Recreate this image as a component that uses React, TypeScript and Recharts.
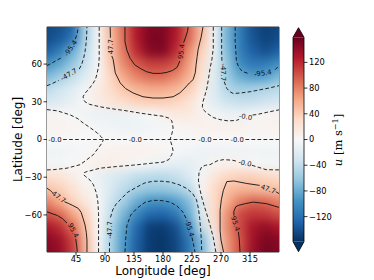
import React from 'react';
import { ComposedChart, Scatter, XAxis, YAxis, ReferenceArea, BarChart, Bar } from 'recharts';

// ---------- data ----------
const LONS = [0, 20, 40, 60, 80, 100, 120, 140, 160, 180, 200, 220, 240, 260, 280, 300, 320, 340, 360];
const LATS = [90, 80, 70, 60, 50, 40, 30, 20, 10, 0, -10, -20, -30, -40, -50, -60, -70, -80, -90];

const U_N90 = [-145, -140, -127, -52, -3, 55, 92, 128, 148, 148, 130, 93, 52, -6, -75, -112, -140, -150, -145];
const U_N80 = [-142, -135, -115, -50, -3, 50, 90, 128, 150, 150, 128, 92, 48, -6, -75, -112, -138, -148, -142];
const U_N70 = [-130, -112, -79, -42, -2, 48, 85, 120, 145, 148, 120, 76, 37, -8, -70, -110, -130, -140, -130];
const U_N60 = [-98, -82, -62, -36, -2, 42, 78, 98, 110, 110, 100, 67, 28, -16, -62, -100, -115, -112, -98];
const U_N50 = [-72, -58, -40, -20, 4, 34, 63, 80, 90, 90, 78, 57, 22, -18, -58, -80, -90, -88, -72];
const U_N40 = [-42, -32, -20, -4, 14, 30, 44, 55, 60, 60, 54, 40, 15, -20, -47, -55, -53, -48, -42];
const U_N30 = [-28, -22, -12, 1, 12, 22, 30, 37, 40, 40, 35, 25, 4, -20, -33, -38, -38, -33, -28];
const U_N20 = [4, 2, -2, -7, -10, -10, -8, -5, 0, 8, 16, 16, 8, -4, -10, -10, -3, 3, 4];
const U_N10 = [6, 6, 4, 1, -4, -7, -8, -8, -6, -3, 2, 6, 8, 8, 7, 7, 6, 6, 6];
const U_EQ = [0, 0, 0, 0, 0, 0, 0, 0, 0, 0, 0, 0, 0, 0, 0, 0, 0, 0, 0];
const U_S10 = [-6, -6, -4, -1, 4, 7, 8, 8, 6, 3, -2, -6, -8, -8, -7, -7, -6, -6, -6];
const U_S20 = [-4, -3, -1, 5, 9, 10, 6, -1, -6, -10, -16, -16, -8, 3, 9, 6, -1, -4, -4];
const U_S30 = [28, 22, 12, -1, -12, -22, -32, -40, -44, -44, -38, -25, -4, 20, 33, 38, 38, 33, 28];
const U_S40 = [46, 38, 24, 8, -5, -25, -42, -55, -62, -62, -56, -44, 4, 30, 48, 55, 55, 50, 46];
const U_S50 = [80, 60, 36, 18, 0, -34, -56, -80, -96, -98, -90, -70, -20, 30, 58, 82, 94, 92, 80];
const U_S60 = [103, 92, 65, 38, 0, -38, -75, -105, -125, -128, -115, -82, -22, 28, 72, 105, 115, 112, 103];
const U_S70 = [130, 118, 90, 45, 0, -48, -88, -125, -150, -152, -140, -100, -40, 20, 75, 105, 132, 140, 130];
const U_S80 = [145, 135, 108, 52, 0, -52, -92, -130, -152, -155, -145, -115, -70, -8, 70, 100, 135, 150, 145];
const U_S90 = [148, 140, 112, 55, 2, -52, -94, -132, -152, -155, -146, -118, -75, -12, 68, 102, 138, 152, 148];

const U_ROWS = [U_N90, U_N80, U_N70, U_N60, U_N50, U_N40, U_N30, U_N20, U_N10, U_EQ,
  U_S10, U_S20, U_S30, U_S40, U_S50, U_S60, U_S70, U_S80, U_S90];

const X_TICKS = [45, 90, 135, 180, 225, 270, 315];
const Y_TICKS = [-60, -30, 0, 30, 60];
const CB_TICKS = [-120, -80, -40, 0, 40, 80, 120];
const CB_MIN = -159;
const CB_MAX = 159;
const LAT_MAX = 89.5;

type P = [number, number];
// contour polylines [lon, lat]
const N_P95_A: P[] = [[121, 89.5], [121, 78], [124, 71], [129, 64.6], [136, 59.5], [144.6, 56.6], [154, 54], [164.7, 52.6], [176, 52.6], [186, 53.4], [195, 55], [202, 57.5], [206, 62.5]];
const N_P95_B: P[] = [[212, 77], [215.5, 82], [218, 86], [219, 89.5]];
const N_P47_A: P[] = [[98, 89.5], [98.5, 81]];
const N_P47_B: P[] = [[100.5, 66.5], [102.7, 63.6], [106, 53], [113.6, 45], [122, 40.5], [133.7, 37], [149, 34], [164.7, 33], [180, 33], [195.7, 34], [206, 37], [214, 41], [221, 45], [226.7, 47.6], [230, 53], [231.4, 59.6], [233, 66], [234.5, 71.6], [237, 77], [239, 81], [242, 89.5]];
const N_ZA: P[] = [[81, 89.5], [81, 75], [81, 65], [80, 58], [77.5, 52], [75, 47.6], [70, 43.5], [64, 39.6], [58.5, 36.5], [56, 34], [57, 31.5], [59, 30], [66, 28], [74, 27], [82.6, 26], [100, 24.5], [121, 23], [144.6, 21], [165, 19.5], [180, 18.5], [189, 17], [193.7, 14.8], [195.7, 9.2], [194, 5], [191, 0]];
const N_ZC_A: P[] = [[258, 89.5], [258, 80], [258, 72.6], [256, 64], [253, 56.6], [250.5, 48], [248, 40.6], [245, 35], [242, 30], [241, 26], [243, 23.5], [248, 21], [258, 17.5], [268.6, 15.8], [281, 14.8], [294, 15.2], [298, 16]];
const N_ZC_B: P[] = [[319, 19.5], [325, 19.8], [340, 21.5], [360, 23.6]];
const N_B: P[] = [[0, 23.8], [16, 22.8], [36, 19.6], [48, 16.5], [56, 13.2], [68, 9], [78, 5.2], [84, 2.2], [87.7, 0]];
const N_M47L_A: P[] = [[0, 42.8], [8, 44.5], [18, 47]];
const N_M47L_B: P[] = [[50, 56], [54, 60], [57, 65], [59, 70], [60.5, 76], [61.5, 82], [62, 89.5]];
const N_M47R_A: P[] = [[271, 89.5], [271, 80], [271, 70], [271.5, 61]];
const N_M47R_B: P[] = [[275, 46], [279, 40.6], [284, 38], [289, 36.6], [300, 37], [315, 38], [330, 39.5], [345, 41], [360, 42.8]];
const N_M95L_A: P[] = [[0, 58.8], [10, 61.5], [22, 65]];
const N_M95L_B: P[] = [[44, 80], [47, 84.5], [48.5, 89.5]];
const N_M95R_A: P[] = [[292, 89.5], [292, 78], [293, 70], [294, 62], [298, 57], [304, 54], [314, 52.2]];
const N_M95R_B: P[] = [[354, 55.5], [360, 58.8]];
const EQ_A: P[] = [[25, 0], [124, 0]];
const EQ_B: P[] = [[150, 0], [232, 0]];
const EQ_C: P[] = [[258, 0], [282, 0]];
const EQ_D: P[] = [[308, 0], [360, 0]];
const S_P95L_A: P[] = [[0, -57.5], [8, -59], [16, -60.4], [24, -63], [31, -66.5]];
const S_P95L_B: P[] = [[44.5, -79], [46, -84], [47, -89.5]];
const S_P47L_A: P[] = [[0, -38.8], [5, -40.5], [9, -42.5]];
const S_P47L_B: P[] = [[27, -49.5], [33, -50.8], [40, -52.5], [48.5, -54.8], [53, -58], [56, -62.8], [59, -68], [61, -74], [62, -80], [62, -89.5]];
const S_ZA: P[] = [[80, -89.5], [80, -75], [80, -59], [79, -50], [77, -43], [72, -36], [67, -32.4], [60, -29.5], [56.7, -28], [58, -26.3], [62, -25.5], [70, -24.5], [82.6, -22.8], [108, -21.5], [134, -20.4], [160, -19], [180, -18], [189, -16], [193.5, -12], [195.7, -9], [194, -5], [191, 0]];
const S_B: P[] = [[0, -24.2], [10, -24], [31, -22.8], [51.6, -20], [62, -16], [72, -12], [80, -6.5], [85, -3], [87.7, 0]];
const S_ZC_A: P[] = [[262, -89.5], [258, -78], [254, -70], [249, -61], [244, -53], [240, -45.8], [236.5, -38], [235, -32.4], [236, -26], [240, -21.8], [246, -20.5], [253, -20], [264, -17], [274, -16], [288, -16.5], [296, -17.5]];
const S_ZC_B: P[] = [[318, -20.5], [340, -24], [360, -24.2]];
const S_M47_A: P[] = [[97, -89.5], [97, -82]];
const S_M47_B: P[] = [[98.5, -62], [102, -56], [107, -51.5], [113.6, -48], [125, -42], [139.5, -37.8], [152, -34.5], [164.7, -33.2], [178, -33.2], [191, -33.8], [205, -36], [217, -39], [226, -43], [232, -48], [235, -55], [237, -63], [238.5, -72], [239.5, -80], [240, -89.5]];
const S_M95_A: P[] = [[121, -89.5], [122, -80], [124, -68.4], [130, -60], [139.5, -54.8], [152, -50], [164.7, -48.4], [178, -48.6], [191, -49.8], [202, -53], [211, -57.8], [216, -63]];
const S_M95_B: P[] = [[225, -78], [228, -85], [229.6, -89.5]];
const S_P47R_A: P[] = [[274, -89.5], [270, -80], [268.6, -72.4], [268.6, -64], [268.6, -56.4], [270.5, -48], [273.7, -40.4], [279, -33.5], [290, -33], [310, -35], [330, -36.5]];
const S_P47R_B: P[] = [[355, -41.5], [360, -43]];
const S_P95R_A: P[] = [[299.5, -89.5], [298.5, -80], [297, -73.5]];
const S_P95R_B: P[] = [[290, -60.5], [290, -57], [293, -53.5], [297, -52.4], [308, -51], [320, -49.8], [340, -51], [360, -54]];

const POS_SEGS = [N_P95_A, N_P95_B, N_P47_A, N_P47_B, S_P95L_A, S_P95L_B, S_P47L_A, S_P47L_B, S_P47R_A, S_P47R_B, S_P95R_A, S_P95R_B];
const NEG_SEGS = [N_ZA, N_ZC_A, N_ZC_B, N_B, N_M47L_A, N_M47L_B, N_M47R_A, N_M47R_B, N_M95L_A, N_M95L_B, N_M95R_A, N_M95R_B,
  EQ_A, EQ_B, EQ_C, EQ_D, S_ZA, S_B, S_ZC_A, S_ZC_B, S_M47_A, S_M47_B, S_M95_A, S_M95_B];

const CONTOUR_LABELS = [
  { lon: 37, lat: 72.5, text: '-95.4', angle: -55 },
  { lon: 34, lat: 51.5, text: '-47.7', angle: -30 },
  { lon: 99.7, lat: 73.8, text: '47.7', angle: -90 },
  { lon: 209, lat: 70, text: '95.4', angle: -84 },
  { lon: 273, lat: 53.5, text: '-47.7', angle: 90 },
  { lon: 335, lat: 52.5, text: '-95.4', angle: -8 },
  { lon: 308, lat: 17.8, text: '-0.0', angle: 10 },
  { lon: 12.4, lat: 0, text: '-0.0', angle: 0 },
  { lon: 137, lat: 0, text: '-0.0', angle: 0 },
  { lon: 245, lat: 0, text: '-0.0', angle: 0 },
  { lon: 295, lat: 0, text: '-0.0', angle: 0 },
  { lon: 307, lat: -19, text: '-0.0', angle: 12 },
  { lon: 18, lat: -46, text: '47.7', angle: 37 },
  { lon: 40.5, lat: -72.5, text: '95.4', angle: 62 },
  { lon: 97.7, lat: -72, text: '-47.7', angle: -90 },
  { lon: 220.5, lat: -70.5, text: '-95.4', angle: 74 },
  { lon: 343, lat: -39.5, text: '47.7', angle: 20 },
  { lon: 292, lat: -67, text: '95.4', angle: 72 },
];

const RDBU_R = ['#053061', '#2166ac', '#4393c3', '#92c5de', '#d1e5f0', '#f7f7f7', '#fddbc7', '#f4a582', '#d6604d', '#b2182b', '#67001f'];

// ---------- helpers ----------
const PLOT_L = 47, PLOT_R = 279, PLOT_T = 27, PLOT_B = 252;
const CELL_W = (PLOT_R - PLOT_L) * 20 / 360;
const CELL_H = (PLOT_B - PLOT_T) * 10 / (2 * LAT_MAX);
const PAD = 16;

function hexToRgb(h: string) {
  return [parseInt(h.slice(1, 3), 16), parseInt(h.slice(3, 5), 16), parseInt(h.slice(5, 7), 16)];
}
const RGB = RDBU_R.map(hexToRgb);
function colorFor(v: number) {
  let t = (v - CB_MIN) / (CB_MAX - CB_MIN);
  t = Math.max(0, Math.min(1, t));
  const s = t * (RGB.length - 1);
  const i = Math.min(RGB.length - 2, Math.floor(s));
  const f = s - i;
  const c = RGB[i].map((a, k) => Math.round(a + (RGB[i + 1][k] - a) * f));
  return `rgb(${c[0]},${c[1]},${c[2]})`;
}

const HEAT = LATS.flatMap((lat, i) => LONS.map((lon, j) => ({ lon, lat, v: U_ROWS[i][j] })));
const toPts = (a: P[]) => a.map(([lon, lat]) => ({ lon, lat }));
const minus = (v: number) => String(v).replace('-', '\u2212');

const CellShape = (props: any) => {
  const { cx, cy, payload } = props;
  if (cx == null || cy == null) return null;
  let x0 = cx - CELL_W / 2, x1 = cx + CELL_W / 2, y0 = cy - CELL_H / 2, y1 = cy + CELL_H / 2;
  if (payload.lon === LONS[0]) x0 -= PAD;
  if (payload.lon === LONS[LONS.length - 1]) x1 += PAD;
  if (payload.lat === LATS[0]) y0 -= PAD;
  if (payload.lat === LATS[LATS.length - 1]) y1 += PAD;
  return <rect className="heat-cell" x={x0 - 0.4} y={y0 - 0.4} width={x1 - x0 + 0.8} height={y1 - y0 + 0.8} fill={colorFor(payload.v)} />;
};

const NoShape = () => null;

const LabelShape = (props: any) => {
  const { cx, cy, payload } = props;
  if (cx == null || cy == null) return null;
  return (
    <text x={cx} y={cy} transform={`rotate(${payload.angle} ${cx} ${cy})`} textAnchor="middle"
      dominantBaseline="central" fontSize={6.8} fontFamily="DejaVu Sans" fill="#111">{payload.text}</text>
  );
};

const CB_DATA = [{ name: 'u', range: [CB_MIN, CB_MAX] }];

const ColorbarShape = (props: any) => {
  const { x, y, width, height } = props;
  const tipT = 9.6, tipB = 10;
  return (
    <g>
      <rect x={x} y={y} width={width} height={height} fill="url(#cbGrad)" />
      <polygon points={`${x},${y} ${x + width},${y} ${x + width / 2},${y - tipT}`} fill={RDBU_R[RDBU_R.length - 1]} />
      <polygon points={`${x},${y + height} ${x + width},${y + height} ${x + width / 2},${y + height + tipB}`} fill={RDBU_R[0]} />
      <path d={`M${x},${y} L${x + width / 2},${y - tipT} L${x + width},${y} L${x + width},${y + height} L${x + width / 2},${y + height + tipB} L${x},${y + height} Z`}
        fill="none" stroke="#000" strokeWidth={0.8} />
      <text transform="translate(342,140) rotate(-90)" textAnchor="middle" fontFamily="DejaVu Serif" fontSize={11.5} fill="#000">
        <tspan fontStyle="italic">u</tspan>
        <tspan> [m s</tspan>
        <tspan dy={-4.5} fontSize={8}>{'\u22121'}</tspan>
        <tspan dy={4.5}>]</tspan>
      </text>
    </g>
  );
};

const CSS = `.heatmap, g.recharts-scatter:has(.heat-cell) { filter: url(#heatBlur); }`;
const tickStyle = { fontSize: 8.3, fill: '#000', fontFamily: 'DejaVu Sans' };

export default function App() {
  return (
    <div style={{ position: 'absolute', left: 0, top: 0, width: 374, height: 280, background: '#fff', overflow: 'hidden' }}>
      <style>{CSS}</style>
      <svg width={0} height={0} style={{ position: 'absolute' }}>
        <defs>
          <filter id="heatBlur" x="-10%" y="-10%" width="120%" height="120%" colorInterpolationFilters="sRGB">
            <feGaussianBlur stdDeviation={5} />
          </filter>
        </defs>
      </svg>
      <div style={{ position: 'absolute', left: 0, top: 0 }}>
        <ComposedChart width={374} height={280} margin={{ top: PLOT_T, right: 374 - PLOT_R, bottom: 0, left: 0 }}>
          <XAxis dataKey="lon" type="number" domain={[0, 360]} ticks={X_TICKS} allowDataOverflow height={280 - PLOT_B}
            tickSize={3.5} tickMargin={0.5} axisLine={false} tickLine={{ stroke: '#000', strokeWidth: 0.8 }} tick={tickStyle} interval={0} />
          <YAxis dataKey="lat" type="number" domain={[-LAT_MAX, LAT_MAX]} ticks={Y_TICKS} allowDataOverflow width={PLOT_L}
            tickSize={3.5} tickMargin={1.5} axisLine={false} tickLine={{ stroke: '#000', strokeWidth: 0.8 }} tick={tickStyle}
            tickFormatter={minus} interval={0} />
          <Scatter className="heatmap" data={HEAT} shape={<CellShape />} isAnimationActive={false} />
          {POS_SEGS.map((s, i) => (
            <Scatter key={'p' + i} data={toPts(s)} shape={<NoShape />} fill="none" lineType="joint"
              line={{ stroke: '#111', strokeWidth: 0.9, fill: 'none' }} isAnimationActive={false} />
          ))}
          {NEG_SEGS.map((s, i) => (
            <Scatter key={'n' + i} data={toPts(s)} shape={<NoShape />} fill="none" lineType="joint"
              line={{ stroke: '#111', strokeWidth: 0.9, strokeDasharray: '3.7 2.3', fill: 'none' }} isAnimationActive={false} />
          ))}
          <Scatter data={CONTOUR_LABELS} shape={<LabelShape />} isAnimationActive={false} />
          <ReferenceArea x1={0} x2={360} y1={-LAT_MAX} y2={LAT_MAX} fill="none" fillOpacity={0} stroke="#000" strokeWidth={0.8} ifOverflow="visible" />
        </ComposedChart>
      </div>
      <div style={{ position: 'absolute', left: 0, top: 0 }}>
        <BarChart width={374} height={280} data={CB_DATA} margin={{ top: 37.3, right: 0, bottom: 38.3, left: 293 }} barCategoryGap={0}>
          <defs>
            <linearGradient id="cbGrad" x1="0" y1="1" x2="0" y2="0">
              {RDBU_R.map((c, i) => <stop key={i} offset={i / (RDBU_R.length - 1)} stopColor={c} />)}
            </linearGradient>
          </defs>
          <XAxis dataKey="name" hide />
          <YAxis orientation="right" type="number" width={70} domain={[CB_MIN, CB_MAX]} ticks={CB_TICKS}
            tickSize={3.5} tickMargin={1.5} axisLine={false} tickLine={{ stroke: '#000', strokeWidth: 0.8 }} tick={tickStyle}
            tickFormatter={minus} interval={0} />
          <Bar dataKey="range" shape={<ColorbarShape />} isAnimationActive={false} />
        </BarChart>
      </div>
      <svg width={374} height={280} style={{ position: 'absolute', left: 0, top: 0, pointerEvents: 'none' }}>
        <text x={163} y={275} textAnchor="middle" fontFamily="DejaVu Sans" fontSize={12} fill="#000">Longitude [deg]</text>
        <text transform="translate(22,139.5) rotate(-90)" textAnchor="middle" fontFamily="DejaVu Sans" fontSize={12} fill="#000">Latitude [deg]</text>
      </svg>
    </div>
  );
}
